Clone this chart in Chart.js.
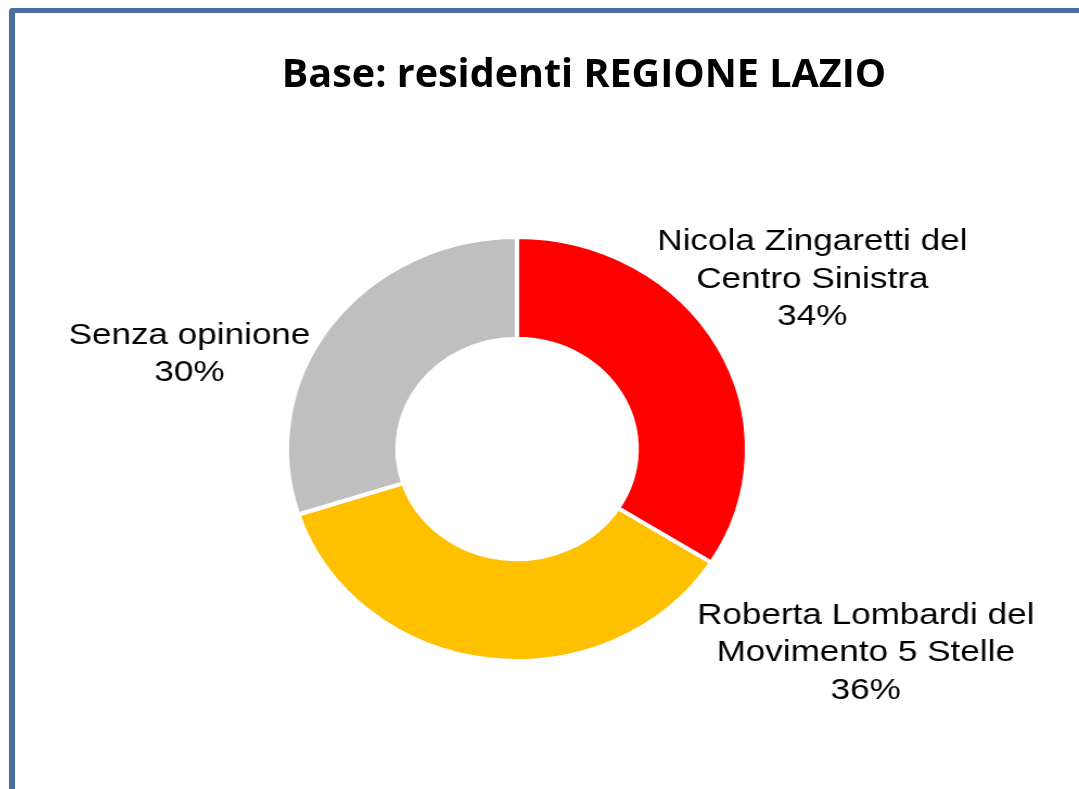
<!DOCTYPE html>
<html>
<head>
<meta charset="utf-8">
<script src="https://cdn.jsdelivr.net/npm/chart.js@4/dist/chart.umd.min.js"></script>
<style>
  html, body { margin: 0; padding: 0; background: #ffffff; overflow: hidden; }
  #frame {
    position: absolute; left: 9px; top: 8px; width: 1200px; height: 900px;
    border-left: 6px solid #4a70a2; border-top: 5px solid #4a70a2;
    border-top-left-radius: 4px;
  }
  #title {
    position: absolute; left: 0; width: 1168px; top: 48px; margin: 0;
    text-align: center; font-family: "Open Sans", sans-serif; font-weight: 700;
    font-size: 39.5px; line-height: 48px; color: #000000;
  }
  #wrap { position: absolute; left: 0; top: 0; width: 1079px; height: 789px; }
  /* the original chart is a little wider than tall */
  #donut { transform: scaleX(1.085); transform-origin: 517px 0; }
</style>
</head>
<body>
<div id="frame"></div>
<div id="wrap"><canvas id="donut"></canvas></div>
<h1 id="title">Base: residenti REGIONE LAZIO</h1>
<script>
//* Input data //*

var categories = [
    ['Nicola Zingaretti del', 'Centro Sinistra'],
    ['Roberta Lombardi del', 'Movimento 5 Stelle'],
    ['Senza opinione']
];
var shares = [34, 36, 30];
var sliceColours = ['#ff0000', '#ffc000', '#bfbfbf'];

// Where each label block sits, in units of the outer radius from the centre.
var labelOffsets = [[1.284, -0.813], [1.516, 0.949], [-1.424, -0.460]];

//* Outside labels //*

var outsideLabels = {
    id: 'outsideLabels',
    afterDatasetsDraw: function(chart) {
        var ctx = chart.ctx;
        var arcs = chart.getDatasetMeta(0).data;
        var lineGap = 37.5;
        ctx.save();
        ctx.fillStyle = '#000000';
        ctx.font = '30px "Liberation Sans", Arial, sans-serif';
        ctx.textAlign = 'center';
        ctx.textBaseline = 'alphabetic';
        for (var i = 0; i < arcs.length; i++) {
            var arc = arcs[i];
            var lines = categories[i].concat([shares[i] + '%']);
            var cx = arc.x + labelOffsets[i][0] * arc.outerRadius;
            var mid = arc.y + labelOffsets[i][1] * arc.outerRadius;
            var first = mid + 11 - (lines.length - 1) * lineGap / 2;
            for (var j = 0; j < lines.length; j++) {
                ctx.save();
                ctx.translate(cx, first + j * lineGap);
                ctx.scale(1.078, 1);
                // Text in the picture is drawn a bit wide.
                ctx.fillText(lines[j], 0, 0);
                ctx.restore();
            }
        }
        ctx.restore();
    }
};

//* Show the doughnut //*

function makeChart() {
    var donut = document.getElementById('donut').getContext('2d');
    var donutChart = new Chart(donut, {
        type: 'doughnut',
        data: {
            labels: categories,
            datasets: [{
                data: shares,
                backgroundColor: sliceColours,
                borderColor: '#ffffff',
                borderWidth: 4
            }]
        },
        options: {
            responsive: true,
            maintainAspectRatio: false,
            animation: false,
            cutout: '52%',
            layout: { padding: { left: 303, right: 348, top: 235, bottom: 126 } },
            plugins: {
                legend: { display: false },
                tooltip: { enabled: false }
            }
        },
        plugins: [outsideLabels]
    });
    return donutChart;
}

var donutChart = makeChart();
</script>
</body>
</html>
